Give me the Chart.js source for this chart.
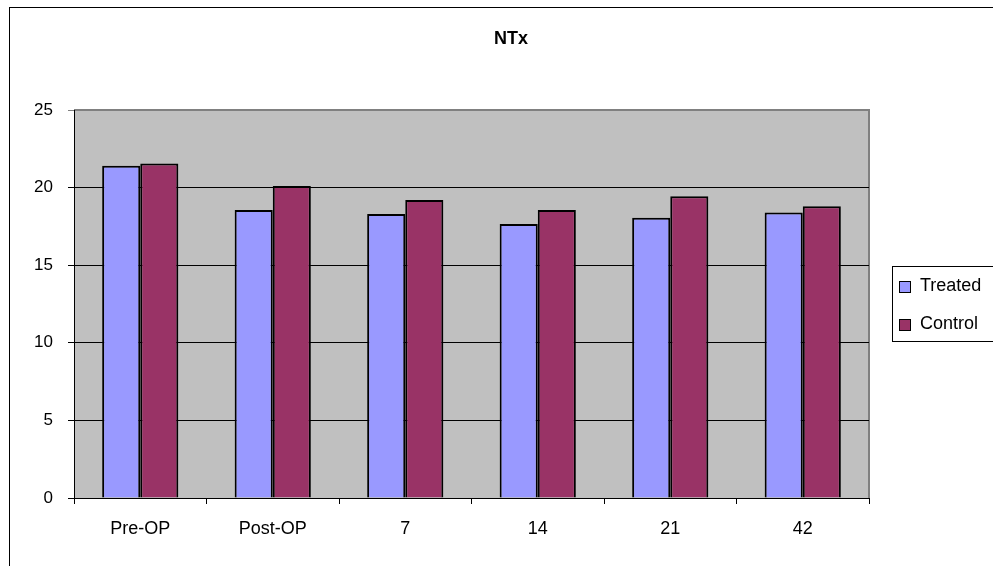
<!DOCTYPE html>
<html>
<head>
<meta charset="utf-8">
<script src="https://cdn.jsdelivr.net/npm/chart.js@4"></script>
<style>
  html, body { margin: 0; padding: 0; background: #fff; }
  #wrap { width: 993px; height: 566px; position: relative; }
</style>
</head>
<body>
<div id="wrap"><canvas id="ntxChart"></canvas></div>
<script>
const categories = ['Pre-OP', 'Post-OP', '7', '14', '21', '42'];
const treated = [21.4, 18.55, 18.3, 17.65, 18.05, 18.4];
const control = [21.55, 20.1, 19.2, 18.55, 19.45, 18.8];
const seriesNames = ['Treated', 'Control'];
const seriesColors = ['#9999ff', '#993366'];

const FONT = 'Liberation Sans, Arial, sans-serif';

// gray plot background, outer frame, title and the clipped legend box
const decor = {
  id: 'decor',
  beforeDraw(chart) {
    const { ctx, chartArea: a } = chart;
    ctx.save();
    ctx.fillStyle = '#fff';
    ctx.fillRect(0, 0, chart.width, chart.height);
    ctx.fillStyle = '#c0c0c0';
    ctx.fillRect(a.left, a.top, a.right - a.left, a.bottom - a.top);
    ctx.strokeStyle = '#808080';
    ctx.lineWidth = 2;
    ctx.beginPath();
    ctx.moveTo(a.left, a.top);
    ctx.lineTo(a.right, a.top);
    ctx.lineTo(a.right, a.bottom);
    ctx.stroke();
    ctx.restore();
  },
  afterDraw(chart) {
    const { ctx } = chart;
    ctx.save();
    ctx.strokeStyle = '#000';
    ctx.lineWidth = 1;
    ctx.strokeRect(9.5, 7.5, 1100, 700);

    ctx.fillStyle = '#000';
    ctx.font = 'bold 18px ' + FONT;
    ctx.textAlign = 'center';
    ctx.textBaseline = 'middle';
    ctx.fillText('NTx', 511, 39);

    // legend
    ctx.strokeStyle = '#000';
    ctx.strokeRect(892.5, 266.5, 200, 75);
    ctx.font = '18px ' + FONT;
    ctx.textAlign = 'left';
    seriesNames.forEach((name, i) => {
      const y = 281 + i * 38;
      ctx.fillStyle = seriesColors[i];
      ctx.fillRect(899, y, 12, 12);
      ctx.strokeStyle = '#000';
      ctx.strokeRect(899.5, y + 0.5, 11, 11);
      ctx.fillStyle = '#000';
      ctx.fillText(name, 920, y + 5);
    });
    ctx.restore();
  }
};

new Chart(document.getElementById('ntxChart'), {
  type: 'bar',
  data: {
    labels: categories,
    datasets: [
      { label: seriesNames[0], data: treated, backgroundColor: seriesColors[0] },
      { label: seriesNames[1], data: control, backgroundColor: seriesColors[1] }
    ].map(d => ({ ...d, borderColor: '#000', borderWidth: 2, borderSkipped: 'bottom',
                  categoryPercentage: 0.575, barPercentage: 1 }))
  },
  options: {
    responsive: true,
    maintainAspectRatio: false,
    animation: false,
    layout: { padding: { left: 0, right: 124, top: 110, bottom: 0 } },
    plugins: {
      legend: { display: false },
      title: { display: false },
      tooltip: { enabled: false }
    },
    scales: {
      x: {
        grid: { drawOnChartArea: false, drawTicks: true, tickLength: 6, color: '#000', offset: true },
        border: { color: '#000', width: 1 },
        ticks: { color: '#000', font: { size: 18, family: FONT }, padding: 14 },
        afterFit(scale) { scale.height = 68; }
      },
      y: {
        min: 0,
        max: 25,
        ticks: { stepSize: 5, color: '#000', font: { size: 17, family: FONT }, padding: 15 },
        grid: {
          color: c => (c.tick && c.tick.value === 25 ? '#808080' : '#000'),
          lineWidth: 1,
          tickLength: 6
        },
        border: { color: '#000', width: 1 },
        afterFit(scale) { scale.width = 74; }
      }
    }
  },
  plugins: [decor]
});
</script>
</body>
</html>
